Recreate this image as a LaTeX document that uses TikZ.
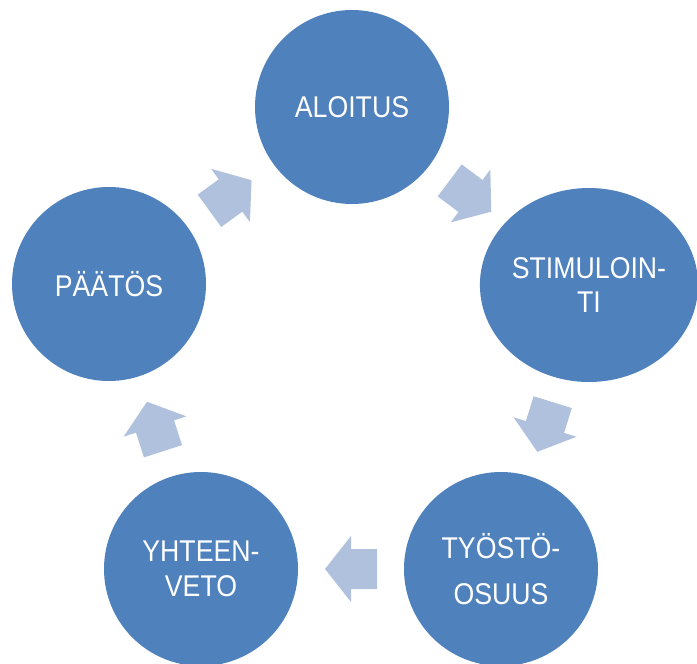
\documentclass[tikz,border=0pt]{standalone}
\usepackage{fontspec}
\setmainfont{Liberation Sans}[FakeStretch=0.89]
\usetikzlibrary{positioning, shapes.geometric}

\definecolor{phaseblue}{HTML}{4F81BD}
\definecolor{arrowblue}{HTML}{B0C1DD}

\tikzset{
    phase/.style={circle, fill=phaseblue, minimum size=145.5pt, inner sep=0pt,
        text=white, align=center, font=\fontsize{22.5pt}{26pt}\selectfont},
    widephase/.style={phase, ellipse, minimum width=163.5pt, minimum height=145.5pt},
    cyclearrow/.pic={
        \fill[arrowblue] (-26,-20) -- (0,-20) -- (0,-33) -- (26,0) -- (0,33) -- (0,20) -- (-26,20) -- cycle;
    }
}

\begin{document}
\begin{tikzpicture}[x=0.75pt, y=-0.75pt]
    \useasboundingbox (0,0) rectangle (697,664);

    % the five phases
    \node[phase] (aloitus) at (352,107) {ALOITUS};
    \node[widephase] (stimulointi) at (589,285) {STIMULOIN-\\TI};
    \node[phase] (tyosto) at (501,569) {TYÖSTÖ-\\[8pt]OSUUS};
    \node[phase] (yhteenveto) at (201,569) {YHTEEN-\\VETO};
    \node[phase] (paatos) at (109,284) {PÄÄTÖS};

    % block arrows between them
    \path (aloitus.center) -- (stimulointi.center) pic[pos=0.5, sloped, allow upside down] {cyclearrow};
    \path (stimulointi.center) -- (tyosto.center) pic[pos=0.5, sloped, allow upside down] {cyclearrow};
    \path (tyosto.center) -- (yhteenveto.center) pic[pos=0.5, sloped, allow upside down] {cyclearrow};
    \path (yhteenveto.center) -- (paatos.center) pic[pos=0.5, sloped, allow upside down] {cyclearrow};
    \path (paatos.center) -- (aloitus.center) pic[pos=0.5, sloped, allow upside down] {cyclearrow};
\end{tikzpicture}
\end{document}
